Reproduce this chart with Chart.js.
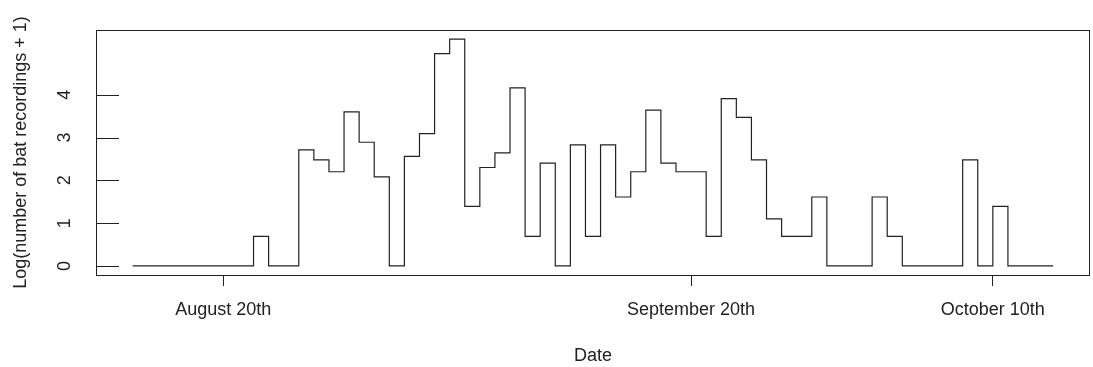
<!DOCTYPE html>
<html>
<head>
<meta charset="utf-8">
<script src="https://cdn.jsdelivr.net/npm/chart.js@4.4.0/dist/chart.umd.min.js"></script>
<style>
  html, body { margin: 0; padding: 0; background: #ffffff; }
  #wrap { width: 1093px; height: 367px; }
</style>
</head>
<body>
<div id="wrap"><canvas id="c" width="1093" height="367"></canvas></div>
<script>
// Days since August 14th (day 0 = Aug 14, day 61 = Oct 14)
const days = [0,1,2,3,4,5,6,7,8,9,10,11,12,13,14,15,16,17,18,19,20,
  21,22,23,24,25,26,27,28,29,30,31,32,33,34,35,36,37,38,39,40,
  41,42,43,44,45,46,47,48,49,50,51,52,53,54,55,56,57,58,59,60,61];
// Log(number of bat recordings + 1)
const logRecordings = [0,0,0,0,0,0,0,0,0.69,0,0,2.71,2.48,2.20,3.60,2.89,2.08,0,2.56,3.09,4.96,
  5.30,1.39,2.30,2.64,4.16,0.69,2.40,0,2.83,0.69,2.83,1.61,2.20,3.64,2.40,2.20,2.20,0.69,3.91,3.47,
  2.48,1.10,0.69,0.69,1.61,0,0,0,1.61,0.69,0,0,0,0,2.48,0,1.39,0,0,0,0];
const xTickDays = [6, 37, 57];
const xTickLabels = ['August 20th', 'September 20th', 'October 10th'];
const yTickValues = [0, 1, 2, 3, 4];
const yTickLabels = ['0', '1', '2', '3', '4'];

const FONT = "'Liberation Sans', Arial, Helvetica, sans-serif";
const INK = '#222222';

const boxPlugin = {
  id: 'rbox',
  afterDraw(chart) {
    const ctx = chart.ctx;
    const a = chart.chartArea;
    const ys = chart.scales.y;
    ctx.save();
    ctx.strokeStyle = INK;
    ctx.lineWidth = 1;
    ctx.strokeRect(Math.round(a.left) + 0.5, Math.round(a.top) + 0.5,
                   Math.round(a.right - a.left) - 1, Math.round(a.bottom - a.top));
    // inward y tick marks
    ctx.beginPath();
    yTickValues.forEach(v => {
      const py = Math.round(ys.getPixelForValue(v)) + 0.5;
      ctx.moveTo(a.left, py);
      ctx.lineTo(a.left + 23, py);
    });
    ctx.stroke();
    // rotated y tick labels
    ctx.fillStyle = INK;
    ctx.font = '18px ' + FONT;
    ctx.textAlign = 'center';
    ctx.textBaseline = 'alphabetic';
    yTickValues.forEach((v, i) => {
      const py = ys.getPixelForValue(v);
      ctx.save();
      ctx.translate(70, py);
      ctx.rotate(-Math.PI / 2);
      ctx.fillText(yTickLabels[i], 0, 0);
      ctx.restore();
    });
    ctx.restore();
  }
};

new Chart(document.getElementById('c'), {
  type: 'line',
  data: {
    datasets: [{
      data: days.map((d, i) => ({ x: d, y: logRecordings[i] })),
      stepped: true,
      borderColor: INK,
      borderWidth: 1.2,
      pointRadius: 0,
      fill: false,
      tension: 0
    }]
  },
  options: {
    responsive: false,
    animation: false,
    events: [],
    layout: { padding: { top: 30, right: 3, left: 0, bottom: 0 } },
    plugins: { legend: { display: false }, tooltip: { enabled: false } },
    scales: {
      x: {
        type: 'linear',
        min: -2.44,
        max: 63.44,
        afterBuildTicks(scale) { scale.ticks = xTickDays.map(v => ({ value: v })); },
        afterFit(scale) { scale.height = 92; },
        ticks: {
          autoSkip: false,
          maxRotation: 0,
          minRotation: 0,
          padding: 13,
          color: INK,
          font: { family: FONT, size: 18 },
          callback(v) { const i = xTickDays.indexOf(v); return i >= 0 ? xTickLabels[i] : ''; }
        },
        grid: { drawOnChartArea: false, drawTicks: true, tickLength: 11, color: INK, lineWidth: 1 },
        border: { display: false },
        title: {
          display: true,
          text: 'Date',
          color: INK,
          font: { family: FONT, size: 18 },
          padding: { top: 0, bottom: 0 }
        }
      },
      y: {
        type: 'linear',
        min: -0.212,
        max: 5.512,
        afterFit(scale) { scale.width = 96; },
        ticks: { display: false },
        grid: { display: false },
        border: { display: false },
        title: {
          display: true,
          text: 'Log(number of bat recordings + 1)',
          color: INK,
          font: { family: FONT, size: 18 },
          padding: { top: 10, bottom: 0 }
        }
      }
    }
  },
  plugins: [boxPlugin]
});
</script>
</body>
</html>
